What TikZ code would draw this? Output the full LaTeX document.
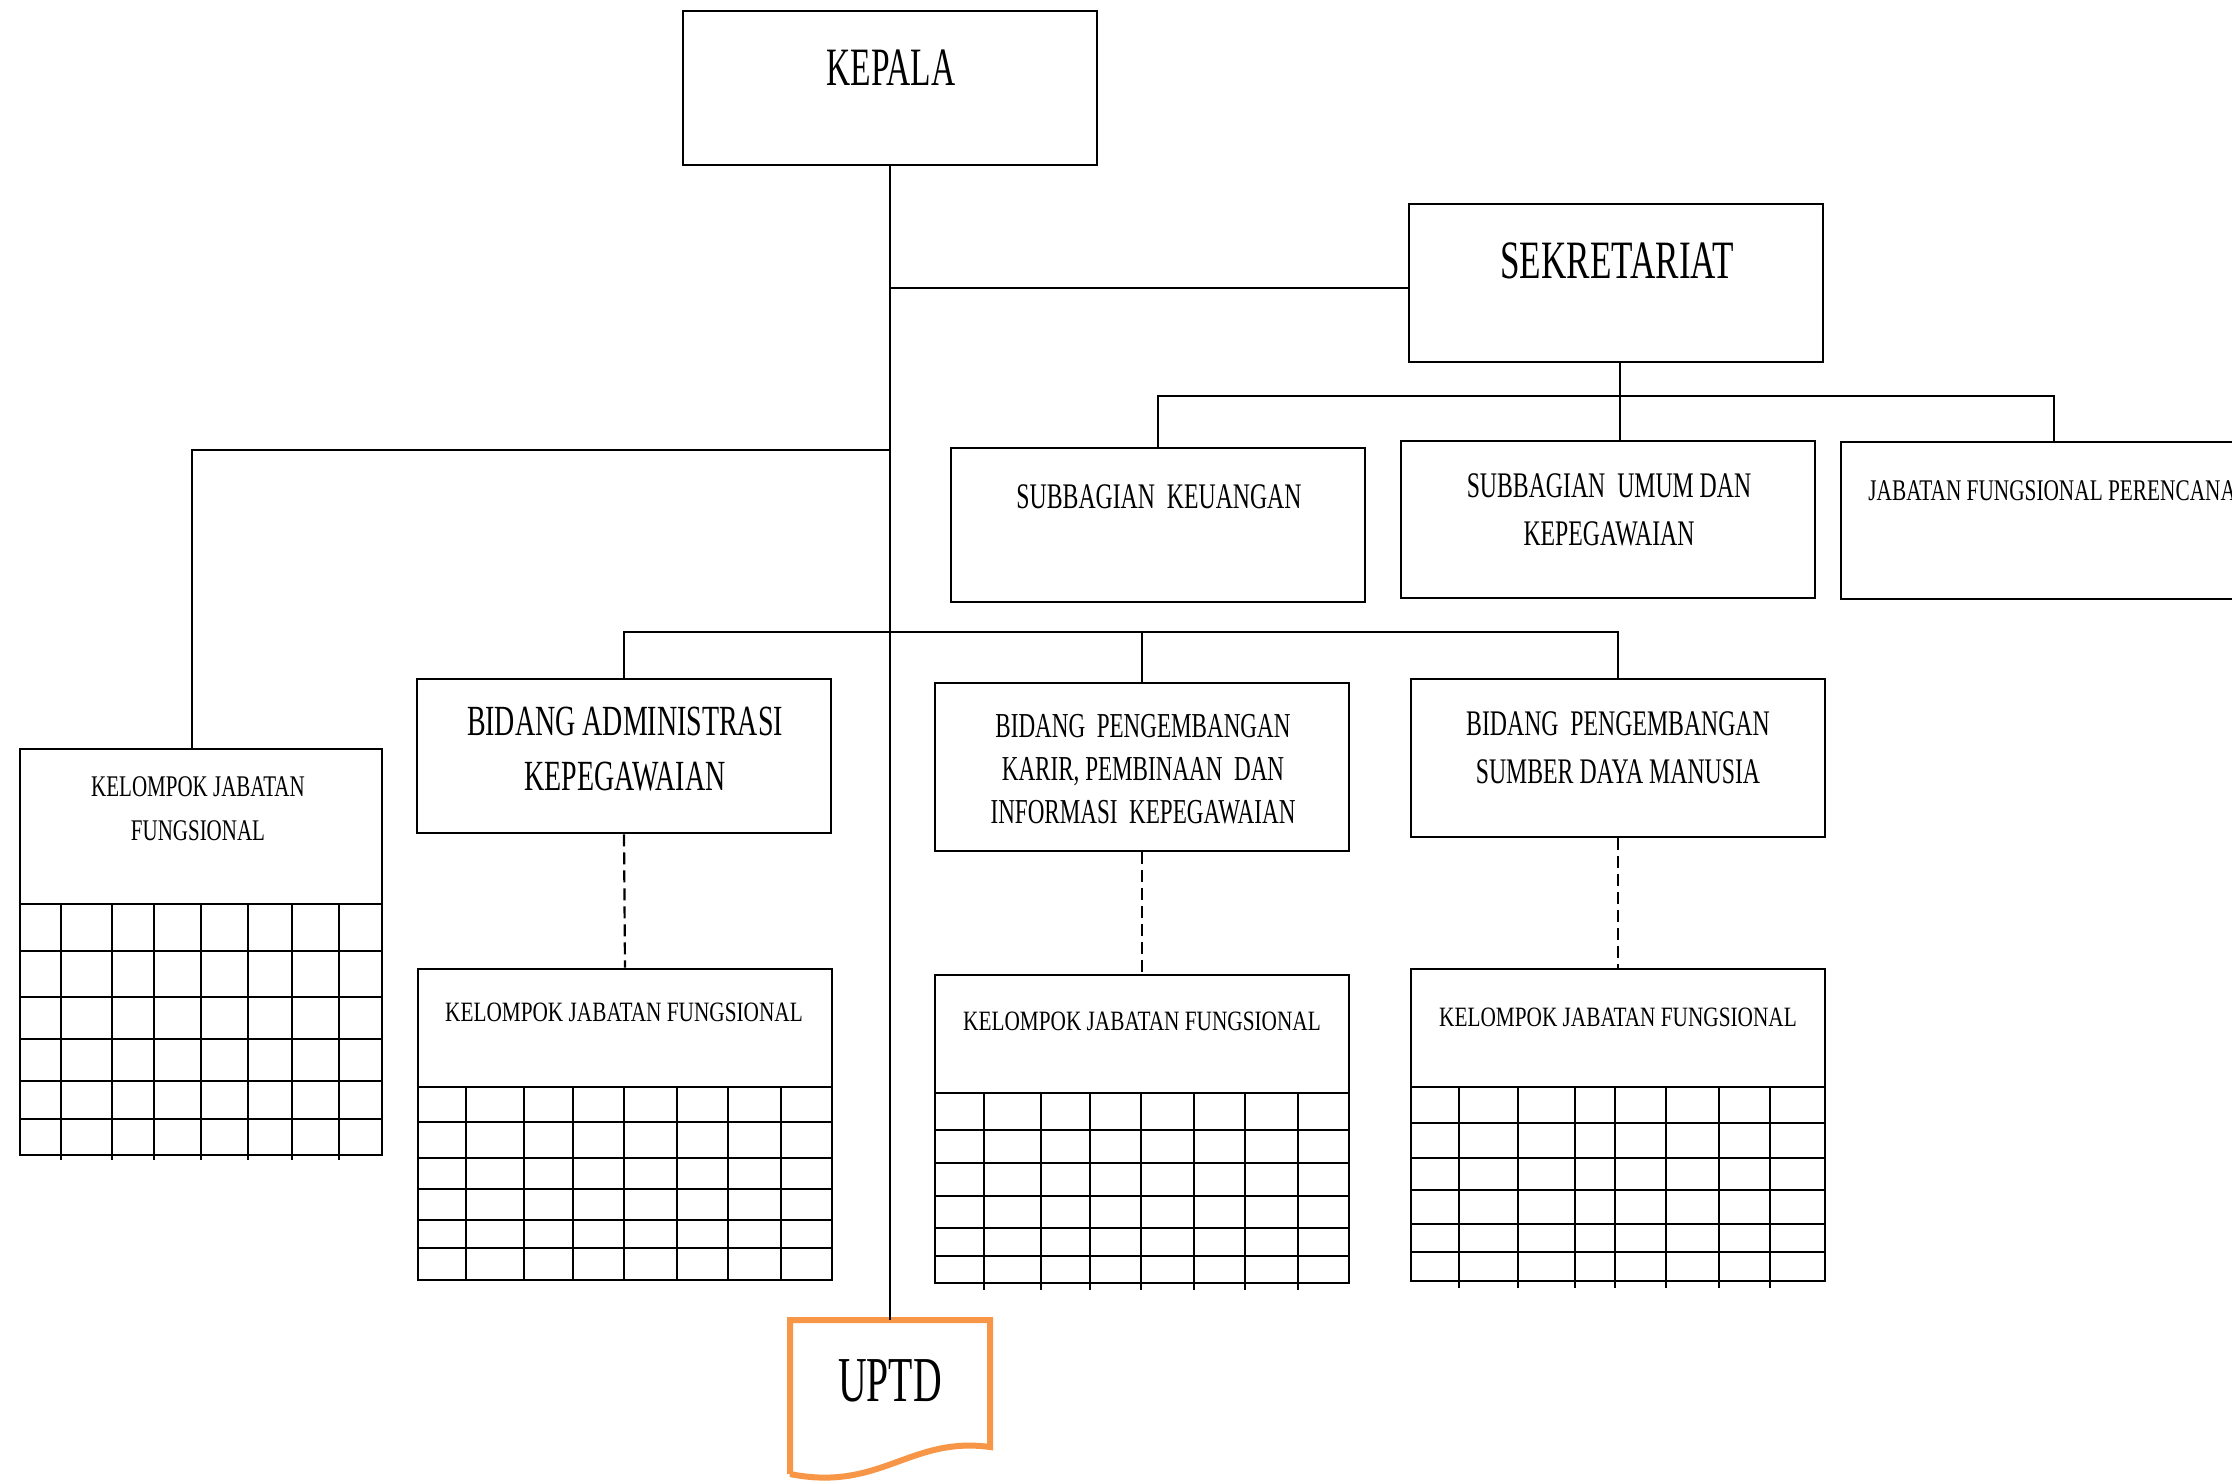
\documentclass[tikz,border=0pt]{standalone}
\usepackage{fontspec}
\setmainfont{Liberation Serif}
\usepackage{graphicx}
\usetikzlibrary{fit}
\definecolor{uorange}{HTML}{F79646}
\newcommand{\tx}[4]{\fontsize{#1}{#2}\selectfont\scalebox{#3}[1]{\begin{tabular}[t]{@{}c@{}}#4\end{tabular}}}
\begin{document}
\begin{tikzpicture}[x=0.5pt,y=-0.5pt,
  box/.style={draw=black,line width=1.3pt,inner sep=0pt,fill=white},
  txt/.style={inner sep=0pt,anchor=base,text=black},
  conn/.style={draw=black,line width=1.1pt},
  dashconn/.style={draw=black,line width=1.1pt,dash pattern=on 6pt off 3pt},
  gridline/.style={draw=black,line width=1.2pt},
  uptdline/.style={draw=uorange,line width=3pt,line join=miter}]
\path[use as bounding box] (0,0) rectangle (2232,1480);
\fill[white] (0,0) rectangle (2232,1480);
\clip (0,0) rectangle (2232,1480);

% boxes
\node[box,fit={(683,11) (1097,165)}] (kepala) {};
\node[box,fit={(1409,204) (1823,362)}] (sek) {};
\node[box,fit={(951,448) (1365,602)}] (sub1) {};
\node[box,fit={(1401,441) (1815,598)}] (sub2) {};
\node[box,fit={(1841,442) (2267,599)}] (jfp) {};
\node[box,fit={(417,679) (831,833)}] (bid1) {};
\node[box,fit={(935,683) (1349,851)}] (bid2) {};
\node[box,fit={(1411,679) (1825,837)}] (bid3) {};
\node[box,fit={(20,749) (382,1155)}] (kjf1) {};
\node[box,fit={(418,969) (832,1280)}] (kjf2) {};
\node[box,fit={(935,975) (1349,1283)}] (kjf3) {};
\node[box,fit={(1411,969) (1825,1281)}] (kjf4) {};
\node[inner sep=0pt,fit={(790,1320) (990,1470)}] (uptd) {};

% grids
\draw[gridline] (20,904) -- (382,904);
\foreach \y in {951,997,1039,1081,1119} \draw[gridline] (20,\y) -- (382,\y);
\foreach \x in {61,112,154,201,248,292,339} \draw[gridline] (\x,904) -- (\x,1160);

\draw[gridline] (418,1087) -- (832,1087);
\foreach \y in {1122,1158,1189,1220,1248} \draw[gridline] (418,\y) -- (832,\y);
\foreach \x in {466,524,573,624,677,728,781} \draw[gridline] (\x,1087) -- (\x,1280);

\draw[gridline] (935,1093) -- (1349,1093);
\foreach \y in {1130,1163,1196,1228,1256} \draw[gridline] (935,\y) -- (1349,\y);
\foreach \x in {984,1041,1090,1141,1194,1245,1298} \draw[gridline] (\x,1093) -- (\x,1290);

\draw[gridline] (1411,1087) -- (1825,1087);
\foreach \y in {1123,1158,1190,1224,1252} \draw[gridline] (1411,\y) -- (1825,\y);
\foreach \x in {1459,1518,1575,1615,1666,1719,1770} \draw[gridline] (\x,1087) -- (\x,1288);

% UPTD document shape
\draw[uptdline,fill=white] (790,1474) -- (790,1320) -- (990,1320) -- (990,1447)
  .. controls (910,1436) and (880,1492) .. (790,1474);

% connectors
\coordinate (jsek) at (891,288);
\coordinate (jleft) at (891,450);
\coordinate (kjf1top) at (192,749);
\coordinate (sb) at (1620,396);
\coordinate (bb) at (0,632);
\draw[conn] (kepala.south) -- (uptd.north);
\draw[conn] (jsek) -- (jsek -| sek.west);
\draw[conn] (jleft) -| (kjf1top);
\draw[conn] (sb |- sek.south) -- (sb |- sub2.north);
\draw[conn] (sub1.north) |- (jfp.north |- sb) -- (jfp.north);
\draw[conn] (bid1.north) |- (bid3.north |- bb) -- (bid3.north);
\draw[conn] (bid2.north) -- (bid2.north |- bb);
\draw[dashconn] (bid1.south) -- (kjf2.north);
\draw[dashconn] (bid2.south) -- (kjf3.north);
\draw[dashconn] (bid3.south) -- (kjf4.north);

% texts
\node[txt] (kepalaT) at (891,85) {\tx{27}{27}{0.62}{KEPALA}};
\node[txt] (sekT) at (1617,278) {\tx{27}{27}{0.65}{SEKRETARIAT}};
\node[txt] (sub1T) at (1159,508) {\tx{18}{24}{0.66}{SUBBAGIAN\ \ KEUANGAN}};
\node[txt] (sub2T) at (1609,497) {\tx{18}{24}{0.66}{SUBBAGIAN\ \ UMUM DAN\\KEPEGAWAIAN}};
\node[txt,anchor=base west] (jfpT) at (1868,500) {\tx{15}{15}{0.71}{JABATAN FUNGSIONAL PERENCANA}};
\node[txt] (bid1T) at (625,735) {\tx{21.5}{27.5}{0.65}{BIDANG ADMINISTRASI\\KEPEGAWAIAN}};
\node[txt] (bid2T) at (1143,737) {\tx{17.5}{21.5}{0.66}{BIDANG\ \ PENGEMBANGAN\\KARIR, PEMBINAAN\ \ DAN\\INFORMASI\ \ KEPEGAWAIAN}};
\node[txt] (bid3T) at (1618,735) {\tx{18}{24}{0.66}{BIDANG\ \ PENGEMBANGAN\\SUMBER DAYA MANUSIA}};
\node[txt] (kjf1T) at (198,796) {\tx{15}{22}{0.70}{KELOMPOK JABATAN\\FUNGSIONAL}};
\node[txt] (kjf2T) at (624,1021) {\tx{14}{14}{0.76}{KELOMPOK JABATAN FUNGSIONAL}};
\node[txt] (kjf3T) at (1142,1030) {\tx{14}{14}{0.76}{KELOMPOK JABATAN FUNGSIONAL}};
\node[txt] (kjf4T) at (1618,1026) {\tx{14}{14}{0.76}{KELOMPOK JABATAN FUNGSIONAL}};
\node[txt] (uptdT) at (890,1401) {\tx{32}{32}{0.62}{UPTD}};
\end{tikzpicture}
\end{document}
